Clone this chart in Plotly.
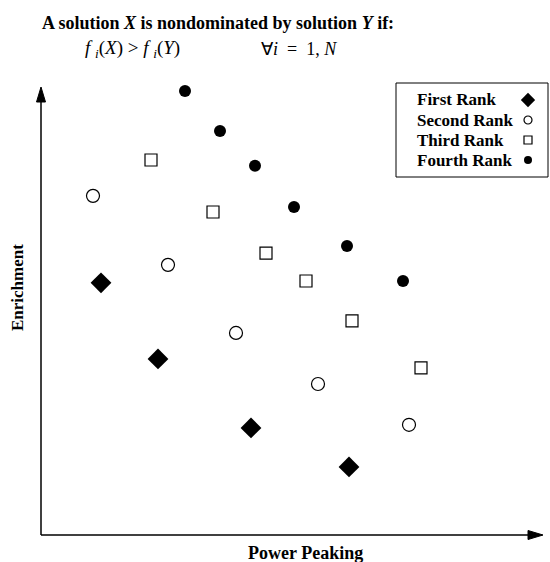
import plotly.graph_objects as go

# Objective-space positions (Power Peaking, Enrichment) for each rank
first_x = [12.0, 23.4, 42.0, 61.6]
first_y = [56.3, 39.3, 23.9, 15.2]

second_x = [10.4, 25.4, 39.0, 55.4, 73.6]
second_y = [75.7, 60.3, 45.1, 33.7, 24.6]

third_x = [22.0, 34.4, 45.0, 53.0, 62.2, 76.0]
third_y = [83.7, 72.1, 62.9, 56.7, 47.8, 37.3]

fourth_x = [28.8, 35.8, 42.8, 50.6, 61.2, 72.4]
fourth_y = [99.1, 90.2, 82.4, 73.2, 64.5, 56.7]

rank_names = ["First Rank", "Second Rank", "Third Rank", "Fourth Rank"]

SERIF = "Liberation Serif"
W, H = 550, 562
L, R, T, B = 41, 9, 87, 27
PW, PH = W - L - R, H - T - B


def px(xp):
    return (xp - L) / PW


def py(yp):
    return (H - B - yp) / PH


styles = [
    dict(symbol="diamond", size=16, color="black", line=dict(width=0)),
    dict(symbol="circle-open", size=13, color="black", line=dict(width=1.2)),
    dict(symbol="square-open", size=12, color="black", line=dict(width=1.2)),
    dict(symbol="circle", size=12, color="black", line=dict(width=0)),
]
series = [(first_x, first_y), (second_x, second_y), (third_x, third_y), (fourth_x, fourth_y)]

fig = go.Figure()
for (xs, ys), st, name in zip(series, styles, rank_names):
    fig.add_trace(go.Scatter(x=xs, y=ys, mode="markers", marker=st, name=name,
                             showlegend=False, cliponaxis=False))

# Hand-built key: label text on the left, symbol on the right
key_x = 97.4
key_rows_px = [100, 120, 140, 160]
for st, kp, name in zip(styles, key_rows_px, rank_names):
    s = dict(st)
    s["size"] = max(8, st["size"] - 5)
    fig.add_trace(go.Scatter(x=[key_x], y=[py(kp) * 100], mode="markers", marker=s,
                             showlegend=False, cliponaxis=False, hoverinfo="skip"))
    fig.add_annotation(x=px(415), y=py(kp), xref="paper", yref="paper",
                       text="<b>" + name + "</b>", showarrow=False, xanchor="left",
                       yanchor="middle", font=dict(family=SERIF, size=17, color="black"))

fig.add_shape(type="rect", xref="paper", yref="paper", x0=px(396), x1=px(548),
              y0=py(177), y1=py(83), line=dict(color="black", width=1))

# Axis lines with solid triangular arrowheads
fig.add_shape(type="line", xref="paper", yref="paper", x0=0, x1=0, y0=0, y1=py(98),
              line=dict(color="black", width=1.5))
fig.add_shape(type="path", xref="paper", yref="paper",
              path=f"M {px(41)},{py(87)} L {px(36.5)},{py(102)} L {px(45.5)},{py(102)} Z",
              fillcolor="black", line=dict(color="black", width=1))
fig.add_shape(type="line", xref="paper", yref="paper", x0=0, x1=px(530), y0=0, y1=0,
              line=dict(color="black", width=1.5))
fig.add_shape(type="path", xref="paper", yref="paper",
              path=f"M {px(543)},{py(535)} L {px(528)},{py(530.5)} L {px(528)},{py(539.5)} Z",
              fillcolor="black", line=dict(color="black", width=1))

# Axis titles
fig.add_annotation(x=px(305), y=py(553), xref="paper", yref="paper",
                   text="<b>Power Peaking</b>", showarrow=False, yanchor="middle",
                   font=dict(family=SERIF, size=18, color="black"))
fig.add_annotation(x=px(17), y=py(288), xref="paper", yref="paper",
                   text="<b>Enrichment</b>", showarrow=False, textangle=-90,
                   xanchor="center", yanchor="middle",
                   font=dict(family=SERIF, size=17, color="black"))

# Heading and dominance condition
fig.add_annotation(x=px(40), y=py(23), xref="paper", yref="paper",
                   text="<b>A solution <i>X</i> is nondominated by solution <i>Y</i> if:</b>",
                   showarrow=False, xanchor="left", yanchor="middle",
                   font=dict(family=SERIF, size=18, color="black"))
fig.add_annotation(x=px(83), y=py(49), xref="paper", yref="paper",
                   text="<i>f</i> <sub><i>i</i></sub>(<i>X</i>) > <i>f</i> <sub><i>i</i></sub>(<i>Y</i>)",
                   showarrow=False, xanchor="left", yanchor="middle",
                   font=dict(family=SERIF, size=19, color="black"))
fig.add_annotation(x=px(259), y=py(49), xref="paper", yref="paper",
                   text="\u2200<i>i</i>  =  1, <i>N</i>",
                   showarrow=False, xanchor="left", yanchor="middle",
                   font=dict(family=SERIF, size=18, color="black"))

fig.update_xaxes(range=[0, 100], visible=False)
fig.update_yaxes(range=[0, 100], visible=False)
fig.update_layout(width=W, height=H, margin=dict(l=L, r=R, t=T, b=B),
                  plot_bgcolor="white", paper_bgcolor="white", showlegend=False)

fig.write_html("out.html")
